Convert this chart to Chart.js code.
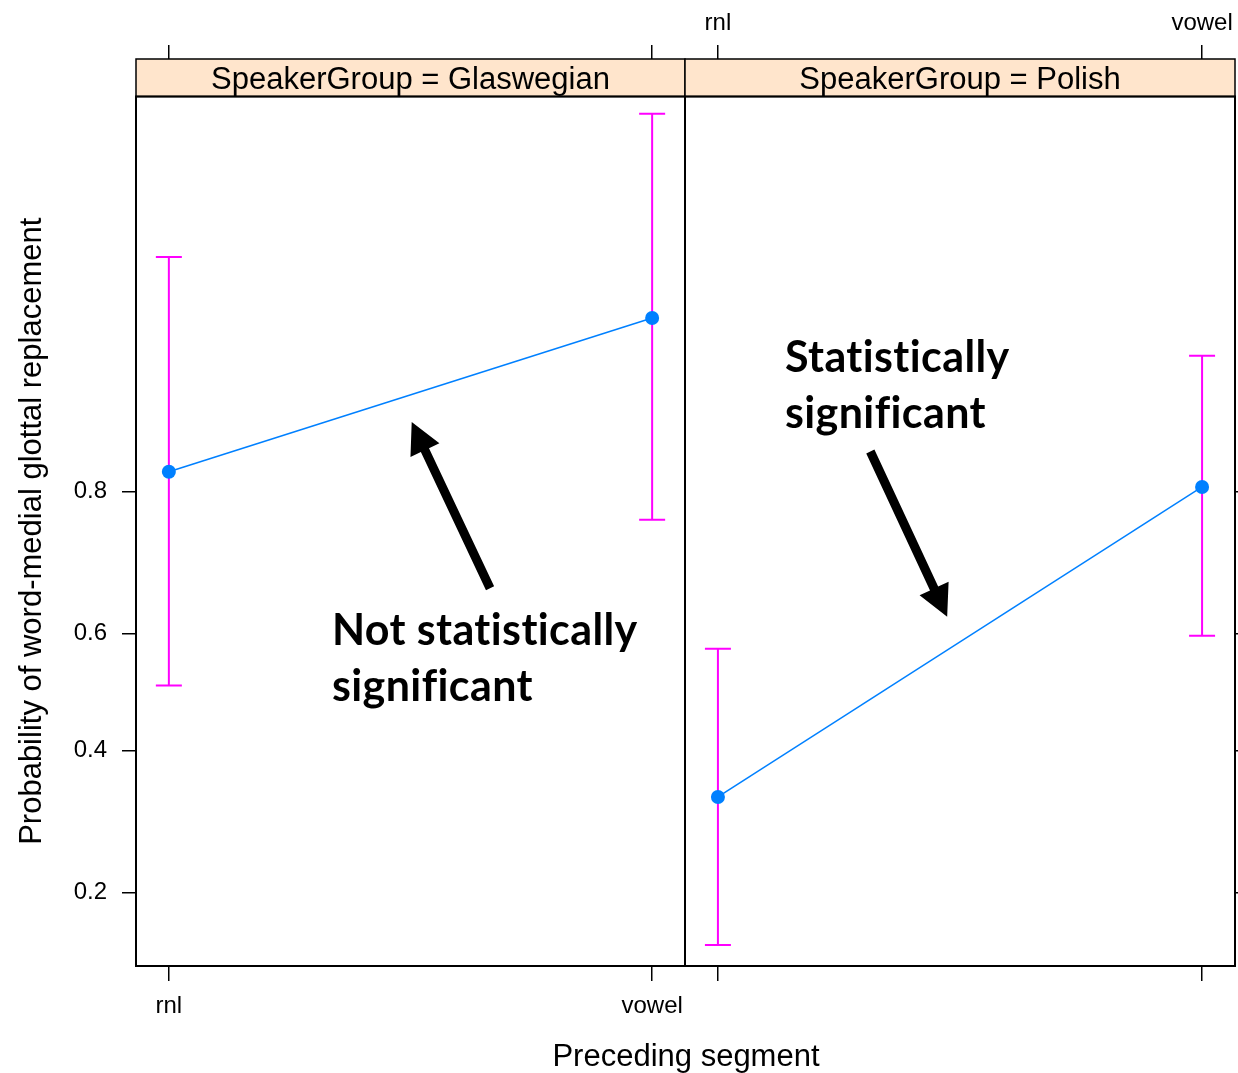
<!DOCTYPE html>
<html>
<head>
<meta charset="utf-8">
<title>Word-medial glottal replacement by preceding segment</title>
<script src="https://cdn.jsdelivr.net/npm/chart.js@4.4.1/dist/chart.umd.min.js"></script>
<style>
  html, body { margin: 0; padding: 0; background: #fff; overflow: hidden; }
  #stage { position: relative; width: 1238px; height: 1073px; }
  #stage canvas { position: absolute; left: 0; top: 0; }
  #xTitle {
    position: absolute; left: 436px; width: 500px; top: 1038px;
    text-align: center; line-height: 36px; color: #000;
    font: 31px "Liberation Sans", Arial, Helvetica, sans-serif;
  }
</style>
</head>
<body>
<div id="stage">
  <canvas id="panelGlaswegian" width="1238" height="1073"></canvas>
  <canvas id="panelPolish" width="1238" height="1073"></canvas>
  <div id="xTitle"></div>
</div>
<script>
// ---- data -------------------------------------------------------------
const SEGMENTS = ['rnl', 'vowel'];
const SPEAKER_GROUPS = ['Glaswegian', 'Polish'];
const Y_TICKS = [0.2, 0.4, 0.6, 0.8];
const Y_LIMITS = [0.1306, 0.9840];

// fitted probabilities with lower / upper confidence limits, per segment
const glaswegianFit   = [0.821, 0.930];
const glaswegianLower = [0.511, 0.767];
const glaswegianUpper = [0.953, 0.982];

const polishFit   = [0.326, 0.805];
const polishLower = [0.148, 0.596];
const polishUpper = [0.574, 0.911];

const Y_TITLE = 'Probability of word-medial glottal replacement';
const X_TITLE = 'Preceding segment';

// callouts, anchored in data space: [segment position, probability]
const glaswegianNote = {
  lines: ['Not statistically', 'significant'],
  at: [0.3375, 0.5806],
  arrowFrom: [0.6646, 0.6721],
  arrowTo: [0.5025, 0.8661]
};
const polishNote = {
  lines: ['Statistically', 'significant'],
  at: [0.1385, 0.9016],
  arrowFrom: [0.3148, 0.8407],
  arrowTo: [0.4735, 0.6274]
};

// ---- look -------------------------------------------------------------
const SANS = '"Liberation Sans", Arial, Helvetica, sans-serif';
const BLUE = '#0080ff';
const MAGENTA = '#ff00ff';
const STRIP_FILL = '#ffe5cc';
const PAGE = { width: 1238, height: 1073 };
const FRAME = { left: 136, split: 685, right: 1235, top: 96.5, bottom: 966 };
const STRIP_HEIGHT = 37.5;
const X_PAD = 0.068;

Chart.defaults.font.family = SANS;
Chart.defaults.color = '#000';

// ---- logit probability axis ---------------------------------------------
const logit = p => Math.log(p / (1 - p));
const invLogit = z => 1 / (1 + Math.exp(-z));

class LogitScale extends Chart.Scale {
  static id = 'logit';
  static defaults = {};

  determineDataLimits() {
    const { min, max } = this.getMinMax(true);
    this.min = this.options.min ?? min;
    this.max = this.options.max ?? max;
  }
  buildTicks() {
    return Y_TICKS.map(value => ({ value }));
  }
  getLabelForValue(value) {
    return String(value);
  }
  getPixelForValue(value) {
    if (value == null || isNaN(value)) return NaN;
    const lo = logit(this.min), hi = logit(this.max);
    return this.getPixelForDecimal((logit(value) - lo) / (hi - lo));
  }
  getValueForPixel(pixel) {
    const lo = logit(this.min), hi = logit(this.max);
    return invLogit(lo + this.getDecimalForPixel(pixel) * (hi - lo));
  }
}
Chart.register(LogitScale);

// axes keep a fixed size and never ask the layout for label overhang
function fixAxisSize(scale, size) {
  if (scale.isHorizontal()) scale.height = size; else scale.width = size;
  scale.paddingLeft = scale.paddingRight = scale.paddingTop = scale.paddingBottom = 0;
}

// ---- panel strip and frame ----------------------------------------------
function panelDecor(label) {
  return {
    id: 'panelDecor',
    afterDraw(chart) {
      const { ctx, chartArea: a } = chart;
      const w = a.right - a.left;
      const top = a.top - STRIP_HEIGHT;
      ctx.save();
      ctx.fillStyle = STRIP_FILL;
      ctx.fillRect(a.left, top, w, STRIP_HEIGHT);
      ctx.lineWidth = 1.5;
      ctx.strokeStyle = '#000';
      ctx.strokeRect(a.left, top, w, STRIP_HEIGHT);
      ctx.fillStyle = '#000';
      ctx.font = '31px ' + SANS;
      ctx.textAlign = 'center';
      ctx.textBaseline = 'middle';
      ctx.fillText(label, a.left + w / 2, top + STRIP_HEIGHT / 2 + 2.5);
      ctx.lineWidth = 2;
      ctx.strokeRect(a.left, a.top, w, a.bottom - a.top);
      ctx.restore();
    }
  };
}

// ---- bold callout text with an arrow --------------------------------------
function callout(note) {
  return {
    id: 'callout',
    afterDatasetsDraw(chart) {
      const { ctx } = chart;
      const xs = chart.scales.x, ys = chart.scales.y;
      const px = p => [xs.getPixelForValue(p[0]), ys.getPixelForValue(p[1])];
      ctx.save();
      ctx.fillStyle = '#000';
      ctx.font = 'bold 43px Lato, "Open Sans", sans-serif';
      if ('letterSpacing' in ctx) ctx.letterSpacing = '0.4px';
      ctx.textAlign = 'left';
      ctx.textBaseline = 'alphabetic';
      const [tx, ty] = px(note.at);
      note.lines.forEach((line, i) => ctx.fillText(line, tx, ty + i * 56));

      const [x0, y0] = px(note.arrowFrom);
      const [x1, y1] = px(note.arrowTo);
      const len = Math.hypot(x1 - x0, y1 - y0);
      const ux = (x1 - x0) / len, uy = (y1 - y0) / len;
      const nx = -uy, ny = ux;
      const shaft = 4.5, headLen = 31, headHalf = 16;
      const bx = x1 - ux * headLen, by = y1 - uy * headLen;
      ctx.beginPath();
      ctx.moveTo(x0 + nx * shaft, y0 + ny * shaft);
      ctx.lineTo(bx + nx * shaft, by + ny * shaft);
      ctx.lineTo(bx + nx * headHalf, by + ny * headHalf);
      ctx.lineTo(x1, y1);
      ctx.lineTo(bx - nx * headHalf, by - ny * headHalf);
      ctx.lineTo(bx - nx * shaft, by - ny * shaft);
      ctx.lineTo(x0 - nx * shaft, y0 - ny * shaft);
      ctx.closePath();
      ctx.fill();
      ctx.restore();
    }
  };
}

// ---- one lattice panel ----------------------------------------------------
function segmentAxis(position, showLabels, tickLength, size, labelPadding) {
  return {
    type: 'linear',
    position,
    bounds: 'data',
    min: -X_PAD,
    max: 1 + X_PAD,
    afterBuildTicks: scale => { scale.ticks = SEGMENTS.map((_, i) => ({ value: i })); },
    afterFit: scale => fixAxisSize(scale, size),
    ticks: {
      display: showLabels,
      callback: v => SEGMENTS[v],
      font: { size: 24 },
      color: '#000',
      padding: labelPadding,
      maxRotation: 0,
      autoSkip: false
    },
    grid: { drawOnChartArea: false, drawTicks: true, tickLength, color: '#000', lineWidth: 1.5 },
    border: { display: false }
  };
}

function makePanel(canvasId, groupIndex, fit, lower, upper, note) {
  const first = groupIndex === 0;

  const errorBars = SEGMENTS.map((_, i) => ({
    data: [{ x: i, y: lower[i] }, { x: i, y: upper[i] }],
    borderColor: MAGENTA,
    borderWidth: 2,
    pointStyle: 'line',
    pointRadius: 13,
    pointHoverRadius: 13,
    pointBorderColor: MAGENTA,
    pointBorderWidth: 2,
    order: 2
  }));

  const fitted = {
    data: SEGMENTS.map((_, i) => ({ x: i, y: fit[i] })),
    borderColor: BLUE,
    borderWidth: 1.5,
    pointStyle: 'circle',
    pointRadius: 7,
    pointHoverRadius: 7,
    pointBackgroundColor: BLUE,
    pointBorderWidth: 0,
    order: 1
  };

  const yAxis = {
    type: 'logit',
    position: first ? 'left' : 'right',
    min: Y_LIMITS[0],
    max: Y_LIMITS[1],
    afterFit: scale => fixAxisSize(scale, first ? FRAME.left : PAGE.width - FRAME.right),
    ticks: {
      display: first,
      callback: v => v.toFixed(1),
      font: { size: 24 },
      color: '#000',
      padding: 15
    },
    grid: { drawOnChartArea: false, drawTicks: true, tickLength: 14, color: '#000', lineWidth: 1.5 },
    border: { display: false },
    title: {
      display: first,
      text: Y_TITLE,
      font: { size: 31 },
      color: '#000',
      padding: { top: 14, bottom: 0 }
    }
  };

  return new Chart(document.getElementById(canvasId), {
    type: 'line',
    data: { datasets: [fitted, ...errorBars] },
    options: {
      responsive: false,
      animation: false,
      events: [],
      layout: {
        autoPadding: false,
        padding: first
          ? { left: 0, right: PAGE.width - FRAME.split, top: 0, bottom: 0 }
          : { left: FRAME.split, right: 0, top: 0, bottom: 0 }
      },
      scales: {
        x: segmentAxis('bottom', first, 15, PAGE.height - FRAME.bottom, 11),
        x2: segmentAxis('top', !first, FRAME.top - 45, FRAME.top, 7),
        y: yAxis
      },
      plugins: {
        legend: { display: false },
        tooltip: { enabled: false }
      }
    },
    plugins: [panelDecor('SpeakerGroup = ' + SPEAKER_GROUPS[groupIndex]), callout(note)]
  });
}

document.getElementById('xTitle').textContent = X_TITLE;

const draw = () => {
  makePanel('panelGlaswegian', 0, glaswegianFit, glaswegianLower, glaswegianUpper, glaswegianNote);
  makePanel('panelPolish', 1, polishFit, polishLower, polishUpper, polishNote);
};
if (document.fonts && document.fonts.load) {
  Promise.all([
    document.fonts.load('bold 43px Lato'),
    document.fonts.load('31px "Liberation Sans"')
  ]).then(draw, draw);
} else {
  draw();
}
</script>
</body>
</html>
